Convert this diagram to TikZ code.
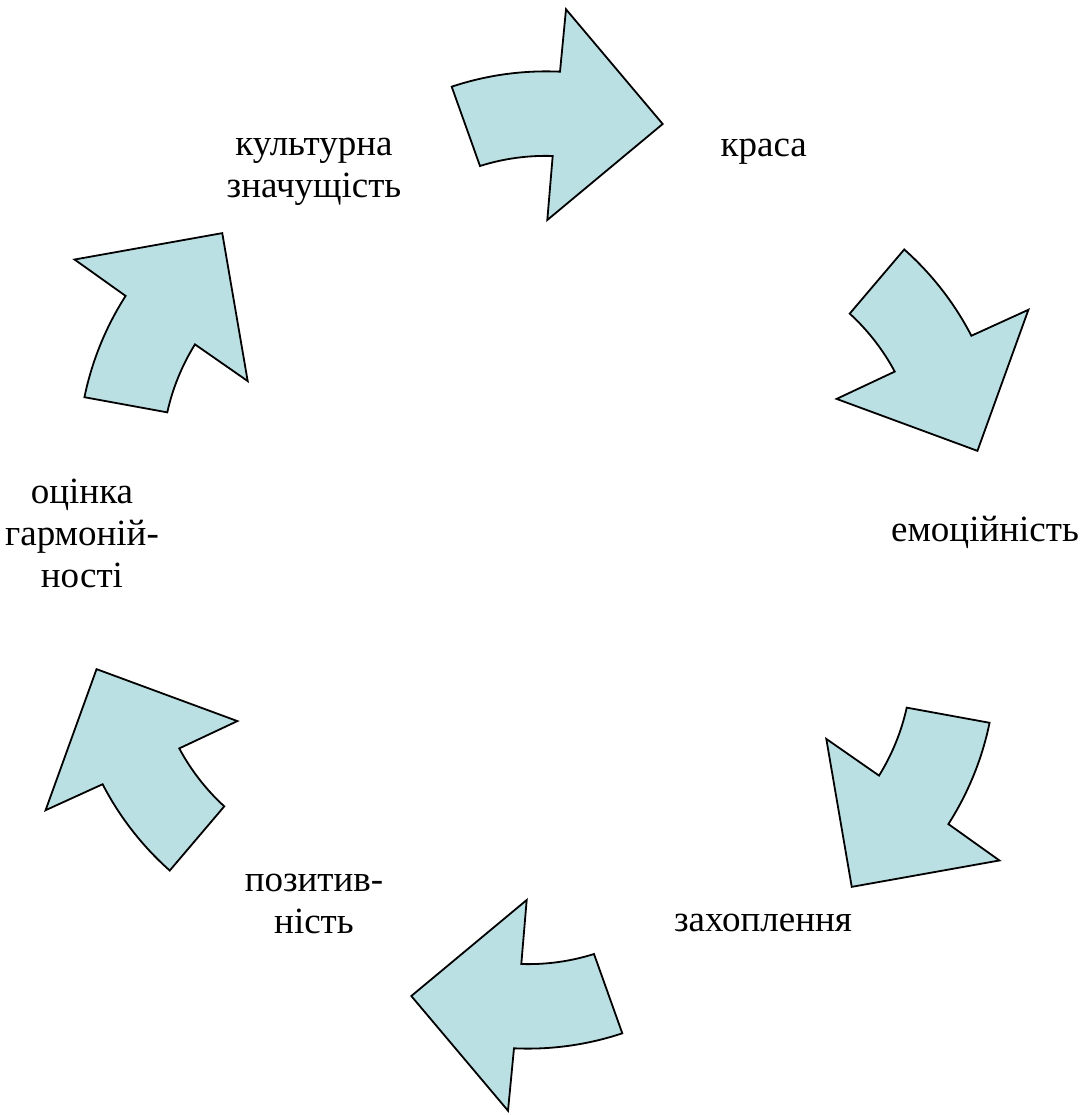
\documentclass[tikz,border=0pt]{standalone}
\usepackage{fontspec}
\setmainfont{Liberation Serif}
\definecolor{arrowfill}{RGB}{187,224,227}
\tikzset{
    cyclearrow/.style={fill=arrowfill, draw=black, line width=1.8pt, line join=miter},
    lbl/.style={font=\fontsize{37}{42}\selectfont, align=center, inner sep=0pt, anchor=north}
}
\begin{document}
\begin{tikzpicture}[x=1pt, y=1pt]
    \useasboundingbox (-537,-555) rectangle (553,560);
    % arrows
    \foreach \ang in {0,-60,...,-300}
        \draw[cyclearrow, rotate=\ang] (-85.3,473.3) .. controls (-50.5,484.9) and (-13.7,490) .. (23,488.3)
            -- (29,550.7) -- (125.7,436) -- (10.3,340) -- (15.7,404)
            .. controls (-8.9,404.8) and (-33.6,401.4) .. (-57,394) -- cycle;

    % labels
    \node[lbl] (krasa) at (226.7,433.4) {\strut краса};
    \node[lbl] (emotsiinist) at (448,48.4) {\strut емоційність};
    \node[lbl] (zakhoplennia) at (226,-342.3) {\strut захоплення};
    \node[lbl] (pozytyvnist) at (-223,-301.6) {\strut позитив-\\ність};
    \node[lbl] (otsinka) at (-455,86.4) {\strut оцінка\\гармоній-\\ності};
    \node[lbl] (kultura) at (-223,434.4) {\strut культурна\\значущість};
\end{tikzpicture}
\end{document}
